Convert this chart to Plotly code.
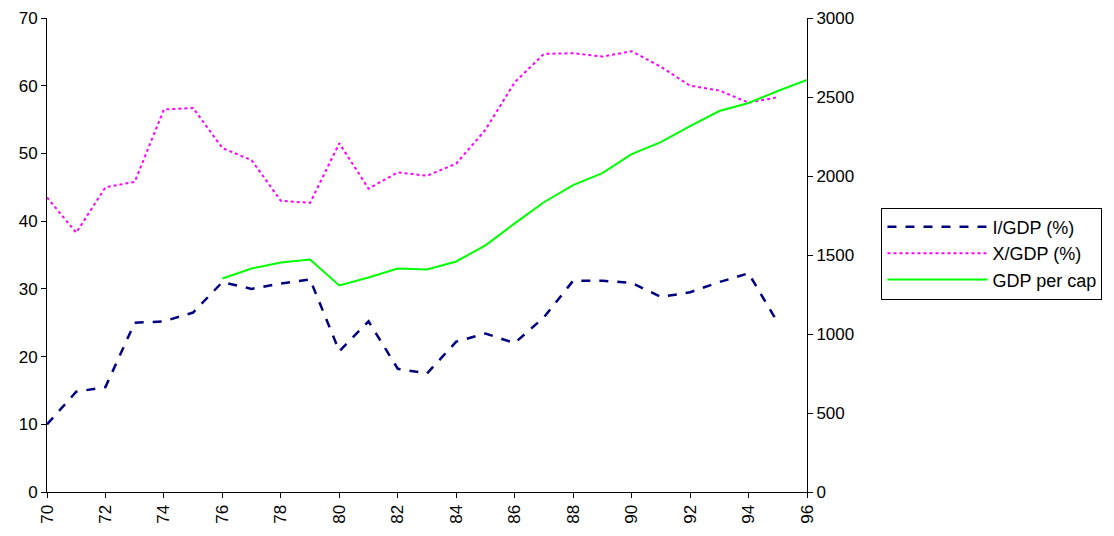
import plotly.graph_objects as go

years = list(range(70, 97))
i_gdp = [10, 14.8, 15.5, 25, 25.2, 26.5, 31, 30, 30.8, 31.4, 20.8, 25.2, 18.2, 17.5,
         22.2, 23.4, 22, 25.8, 31.2, 31.2, 30.9, 28.8, 29.5, 31, 32.3, 25]
x_gdp = [43.5, 38.3, 45, 45.8, 56.5, 56.7, 50.8, 49, 43, 42.7, 51.5, 44.8, 47.2, 46.7,
         48.5, 53.5, 60.5, 64.7, 64.8, 64.3, 65.1, 62.8, 60, 59.3, 57.5, 58.3]
gdp_years = list(range(76, 97))
gdp_cap = [1351, 1415, 1453, 1472, 1307, 1358, 1415, 1408, 1459, 1561, 1700, 1834,
           1942, 2018, 2138, 2214, 2316, 2411, 2462, 2538, 2608]

fig = go.Figure()
fig.add_trace(go.Scatter(x=years[:26], y=i_gdp, name="I/GDP (%)", mode="lines",
                         line=dict(color="#000080", width=2.5, dash="dash")))
fig.add_trace(go.Scatter(x=years[:26], y=x_gdp, name="X/GDP (%)", mode="lines",
                         line=dict(color="#ff00ff", width=2, dash="dot")))
fig.add_trace(go.Scatter(x=gdp_years, y=gdp_cap, name="GDP per cap", mode="lines",
                         yaxis="y2", line=dict(color="#00ff00", width=2)))

axis_font = dict(family="Liberation Sans, Arial", size=17, color="black")
common = dict(showgrid=False, showline=True, linecolor="black", ticks="outside",
              ticklen=5, tickcolor="black", zeroline=False, automargin=False)
fig.update_layout(
    width=1114, height=536,
    margin=dict(l=39, r=315, t=10, b=52),
    plot_bgcolor="white", paper_bgcolor="white",
    font=axis_font,
    xaxis=dict(range=[70, 96], tickvals=list(range(70, 97, 2)), tickangle=-90, **common),
    yaxis=dict(range=[0, 70], dtick=10, **common),
    yaxis2=dict(range=[0, 3000], dtick=500, overlaying="y", side="right", **common),
    legend=dict(x=1.098, y=0.6, xanchor="left", yanchor="top", bordercolor="black",
                borderwidth=1, font=dict(size=18), itemwidth=100, tracegroupgap=4),
)
fig.write_html("out.html")
